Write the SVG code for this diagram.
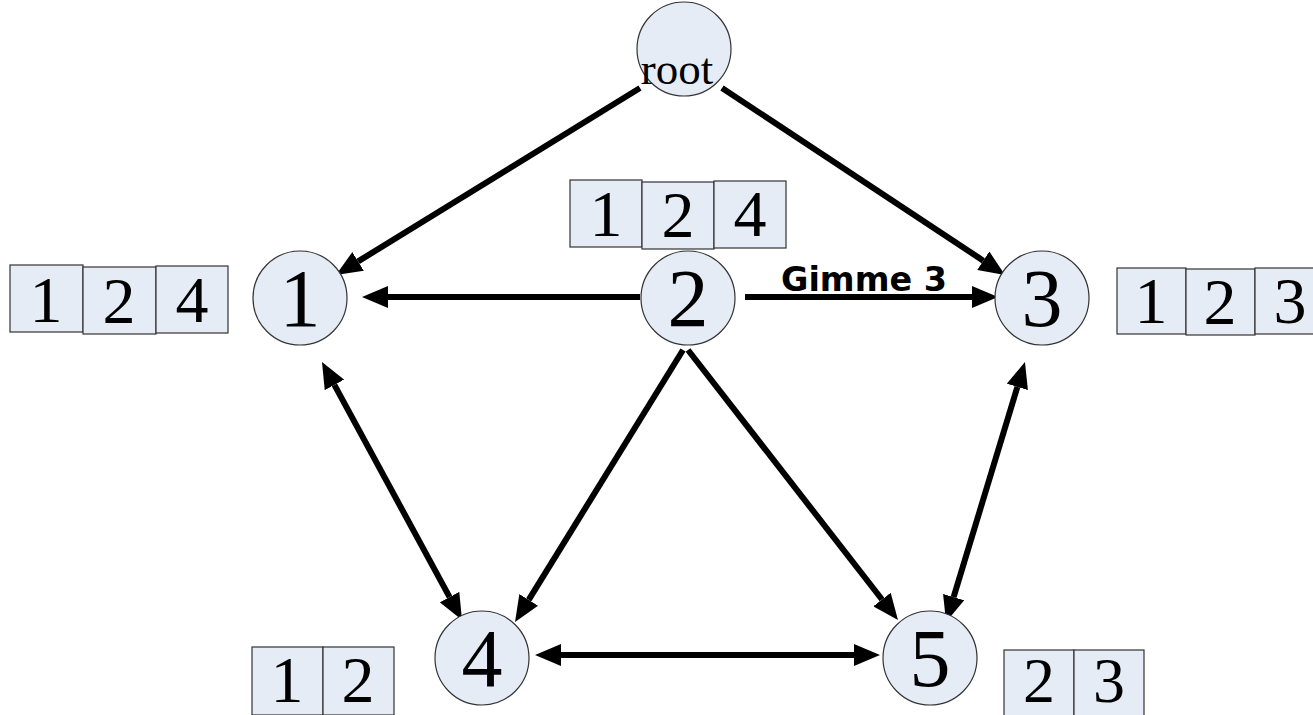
<svg xmlns="http://www.w3.org/2000/svg" width="1313" height="715" viewBox="0 0 1313 715">
<style>
.n circle{fill:#e6ecf6;stroke:#333;stroke-width:1.2}
.n text{font-family:"Liberation Serif",serif;font-size:82px;fill:#000;text-anchor:middle}
.b rect{fill:#e6ecf6;stroke:#333;stroke-width:1.2}
.b text{font-family:"Liberation Serif",serif;font-size:66px;fill:#000;text-anchor:middle}
.e line{stroke:#000;stroke-width:6;fill:none}
.lbl{font-family:"DejaVu Sans","Liberation Sans",sans-serif;font-weight:bold;font-size:33px;fill:#000}
</style>
<defs>
<marker id="ah" viewBox="0 -11 26 22" refX="0" refY="0" markerWidth="26" markerHeight="22" markerUnits="userSpaceOnUse" orient="auto-start-reverse">
<path d="M0,-11 L26,0 L0,11 Z" fill="#000"/>
</marker>
</defs>
<g id="connectors" class="e">
<line x1="640" y1="88" x2="358.1" y2="261.4" marker-end="url(#ah)"/>
<line x1="722" y1="88" x2="983.3" y2="260.7" marker-end="url(#ah)"/>
<line x1="640" y1="297" x2="388" y2="297" marker-end="url(#ah)"/>
<line x1="745" y1="297" x2="972" y2="297" marker-end="url(#ah)"/>
<line x1="334.4" y1="384.9" x2="449.6" y2="597.1" marker-start="url(#ah)" marker-end="url(#ah)"/>
<line x1="683" y1="350" x2="528.7" y2="599.9" marker-end="url(#ah)"/>
<line x1="688" y1="350" x2="882" y2="599.5" marker-end="url(#ah)"/>
<line x1="1017.4" y1="386.9" x2="953.6" y2="597.1" marker-start="url(#ah)" marker-end="url(#ah)"/>
<line x1="561" y1="655" x2="854" y2="655" marker-start="url(#ah)" marker-end="url(#ah)"/>
</g>
<g id="node-root" class="n"><circle cx="684" cy="49" r="47"/><text x="677" y="84" style="font-size:45px">root</text></g>
<g id="node-1" class="n"><circle cx="300" cy="298" r="47"/><text x="300" y="326">1</text></g>
<g id="node-2" class="n"><circle cx="688" cy="298" r="47"/><text x="688" y="326">2</text></g>
<g id="node-3" class="n"><circle cx="1042" cy="298" r="47"/><text x="1042" y="326">3</text></g>
<g id="node-4" class="n"><circle cx="482" cy="658" r="47"/><text x="482" y="686">4</text></g>
<g id="node-5" class="n"><circle cx="930" cy="658" r="47"/><text x="930" y="686">5</text></g>
<g id="box-left" class="b">
<rect x="10" y="265" width="73" height="67"/><rect x="83" y="267" width="73" height="67"/><rect x="156" y="266" width="72" height="67"/>
<text x="46" y="322">1</text><text x="119" y="323">2</text><text x="192" y="322">4</text>
</g>
<g id="box-top" class="b">
<rect x="570" y="180" width="72" height="67"/><rect x="642" y="182" width="72" height="67"/><rect x="714" y="181" width="72" height="67"/>
<text x="606" y="236">1</text><text x="678" y="237">2</text><text x="750" y="236">4</text>
</g>
<g id="box-right" class="b">
<rect x="1117" y="268" width="69" height="66"/><rect x="1186" y="269" width="69" height="66"/><rect x="1255" y="268" width="70" height="66"/>
<text x="1151" y="323">1</text><text x="1220" y="324">2</text><text x="1290" y="323">3</text>
</g>
<g id="box-bottom-left" class="b">
<rect x="252" y="647" width="71" height="68"/><rect x="323" y="647" width="71" height="68"/>
<text x="287" y="702">1</text><text x="358" y="702">2</text>
</g>
<g id="box-bottom-right" class="b">
<rect x="1004" y="650" width="70" height="66"/><rect x="1074" y="650" width="70" height="66"/>
<text x="1039" y="702" style="font-size:64px">2</text><text x="1109" y="702" style="font-size:64px">3</text>
</g>
<text id="label-gimme" class="lbl" x="781" y="291" textLength="166" lengthAdjust="spacingAndGlyphs">Gimme 3</text>
</svg>
